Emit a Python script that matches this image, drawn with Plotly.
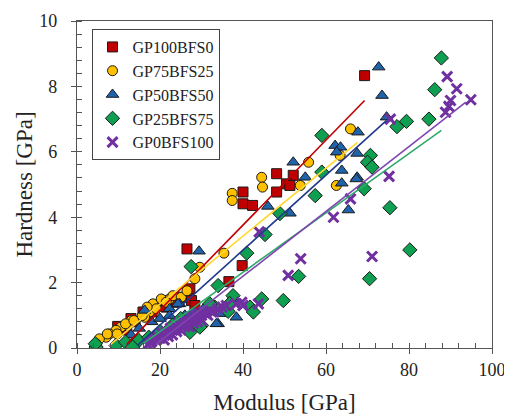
import plotly.graph_objects as go

# ---------------- data ----------------
names = ["GP100BFS0", "GP75BFS25", "GP50BFS50", "GP25BFS75", "GP0BFS100"]

gp100_x = [69.3, 48.1, 52.1, 50.5, 51.3, 48.1, 40.0, 40.0, 42.3, 26.5, 39.8, 36.6,
           25.5, 26.7, 27.6, 27.2, 28.4, 22.7, 20.7, 18.7, 15.9, 18.1, 9.8, 12.0,
           14.0, 17.0, 24.0, 21.5, 13.0]
gp100_y = [8.33, 5.33, 5.28, 5.02, 4.97, 4.77, 4.77, 4.41, 4.36, 3.03, 2.52, 2.03,
           1.55, 1.76, 1.45, 1.81, 1.30, 1.45, 1.45, 1.30, 1.10, 1.10, 0.66, 0.55,
           0.80, 1.00, 1.40, 1.25, 0.90]

gp75_x = [65.9, 63.4, 62.5, 55.8, 53.8, 44.5, 44.7, 37.4, 37.4, 35.4, 29.6, 28.4,
          24.7, 22.3, 18.3, 17.5, 16.3, 13.1, 12.2, 10.6, 9.4, 7.8, 7.0, 5.4, 4.6,
          18.3, 20.3, 23.1, 25.1, 19.1, 7.3, 9.7, 11.7, 13.7, 15.7, 16.9, 21.5, 26.5]
gp75_y = [6.70, 5.89, 4.97, 5.68, 4.97, 5.22, 4.92, 4.73, 4.51, 2.90, 2.47, 2.12,
          1.55, 1.50, 1.25, 1.10, 0.94, 0.84, 0.69, 0.64, 0.54, 0.43, 0.33, 0.28, 0.13,
          1.35, 1.50, 1.60, 1.55, 1.20, 0.43, 0.43, 0.74, 0.84, 0.99, 1.25, 1.40, 1.75]

gp50_x = [72.7, 73.5, 74.6, 67.7, 62.2, 63.5, 62.6, 67.5, 52.1, 63.8, 67.5, 63.8,
          67.3, 55.0, 51.3, 65.4, 46.0, 29.4, 34.0, 34.8, 24.7, 22.3, 22.3, 24.3,
          33.6, 36.4, 37.5, 16.3, 38.4, 13.0, 15.0, 18.0, 20.0, 26.0, 28.0, 30.5]
gp50_y = [8.59, 7.72, 7.06, 6.60, 6.19, 6.14, 5.99, 5.95, 5.68, 5.43, 5.22, 5.04,
          5.17, 5.22, 4.12, 4.22, 4.33, 2.96, 0.74, 1.05, 1.35, 1.20, 0.99, 1.35,
          0.74, 1.35, 1.50, 1.15, 0.94, 0.40, 0.60, 0.80, 0.90, 1.00, 1.10, 1.20]

gp25_x = [87.8, 86.2, 84.8, 79.4, 77.1, 59.0, 70.7, 70.0, 71.1, 59.0, 57.4, 69.2,
          48.9, 75.4, 53.4, 49.7, 70.5, 80.2, 45.3, 40.9, 27.5, 34.0, 44.5, 37.6,
          41.7, 36.4, 33.2, 30.0, 42.5, 36.8, 32.0, 29.6, 27.2, 22.3, 18.3, 28.8,
          4.6, 9.4, 13.1, 11.7, 14.9, 4.4, 17.3, 13.4, 20.0, 23.0, 25.0]
gp25_y = [8.87, 7.90, 7.00, 6.93, 6.77, 6.50, 5.89, 5.68, 5.53, 5.38, 4.66, 4.87,
          4.11, 4.29, 2.19, 1.45, 2.12, 3.00, 3.47, 2.90, 2.49, 1.91, 1.50, 1.60,
          1.25, 1.12, 1.25, 0.69, 1.10, 1.36, 1.35, 0.64, 0.48, 0.59, 0.28, 0.94,
          0.03, 0.08, 0.08, 0.18, 0.23, 0.13, 0.33, 0.03, 0.50, 0.70, 0.90]

gp0_x = [75.5, 89.2, 91.5, 90.0, 89.6, 94.9, 88.8, 75.2, 65.9, 61.8, 53.9, 50.9,
         71.1, 43.9, 39.7, 43.7,
         17.0, 17.6, 18.0, 18.5, 19.0, 19.5, 20.0, 20.5, 21.0, 21.5, 22.0, 22.5,
         23.0, 23.5, 24.0, 24.5, 25.0, 25.5, 26.0, 26.5, 27.0, 27.5, 28.0, 28.5,
         29.0, 29.5, 30.0, 30.5, 31.0, 31.5, 32.0, 32.5, 33.0, 34.0, 35.0, 36.0,
         21.0, 22.0, 23.0, 24.0, 25.0, 26.0, 27.0, 28.0, 29.0, 30.0, 38.4, 40.0]
gp0_y = [7.00, 8.30, 7.93, 7.57, 7.39, 7.59, 7.21, 5.25, 4.56, 4.00, 2.73, 2.22,
         2.80, 3.55, 1.40, 1.35,
         0.10, 0.15, 0.20, 0.28, 0.25, 0.35, 0.30, 0.45, 0.40, 0.50, 0.45, 0.60,
         0.55, 0.65, 0.60, 0.75, 0.70, 0.80, 0.75, 0.85, 0.80, 0.95, 0.90, 1.00,
         0.95, 1.05, 1.00, 1.10, 1.05, 1.00, 1.15, 1.10, 1.10, 1.20, 1.25, 1.30,
         0.25, 0.35, 0.40, 0.50, 0.55, 0.65, 0.65, 0.75, 0.80, 0.85, 1.35, 1.30]

# linear trend lines: slope, intercept, x start, x end
fit_slope = [0.130, 0.1038, 0.1146, 0.0907, 0.0991]
fit_intercept = [-1.44, -0.73, -1.59, -1.31, -1.77]
fit_xstart = [12.0, 7.8, 14.5, 16.0, 19.0]
fit_xend = [69.3, 67.6, 74.6, 87.8, 93.7]

xs = [gp100_x, gp75_x, gp50_x, gp25_x, gp0_x]
ys = [gp100_y, gp75_y, gp50_y, gp25_y, gp0_y]

# ---------------- styling ----------------
fill_colors = ["#C00000", "#FFC000", "#1F63AA", "#0E9F50", "#7030A0"]
line_colors = ["#C00000", "#FFD830", "#1F3A8A", "#2EAA6A", "#7F45B0"]
symbols = ["square", "circle", "triangle-up", "diamond", "x-thin-open"]
sizes = [10, 10, 11, 11, 10]
FONT = "Liberation Serif"

fig = go.Figure()
for i in range(5):
    if symbols[i] == "x-thin-open":
        marker = dict(symbol=symbols[i], size=sizes[i], color=fill_colors[i],
                      line=dict(color=fill_colors[i], width=3))
    else:
        marker = dict(symbol=symbols[i], size=sizes[i], color=fill_colors[i],
                      line=dict(color="#1a1a1a", width=1))
    fig.add_trace(go.Scatter(x=xs[i], y=ys[i], mode="markers", name=names[i],
                             marker=marker))

for i in range(5):
    lx = [fit_xstart[i], fit_xend[i]]
    ly = [fit_slope[i] * v + fit_intercept[i] for v in lx]
    fig.add_trace(go.Scatter(x=lx, y=ly, mode="lines", showlegend=False,
                             line=dict(color=line_colors[i], width=1.6),
                             hoverinfo="skip"))

# invisible trace for the overlay axes (inside part of the crossing major ticks)
fig.add_trace(go.Scatter(x=[None], y=[None], xaxis="x2", yaxis="y2",
                         showlegend=False, hoverinfo="skip"))

axis_common = dict(showgrid=False, zeroline=False, showline=True,
                   linecolor="#555555", linewidth=1.3, mirror=True,
                   tickcolor="#555555", tickwidth=1.3, automargin=False,
                   tickfont=dict(family=FONT, size=18, color="#222222"),
                   title_font=dict(family=FONT, size=23, color="#222222"))

fig.update_layout(
    width=512, height=415,
    margin=dict(l=69, r=28, t=13, b=75),
    paper_bgcolor="white", plot_bgcolor="white",
    font=dict(family=FONT, color="#222222"),
    xaxis=dict(range=[0, 100], dtick=20, ticks="outside", ticklen=5,
               minor=dict(dtick=4, ticks="inside", ticklen=5,
                          tickcolor="#555555", tickwidth=1.1),
               title=dict(text="Modulus [GPa]", standoff=15), **axis_common),
    yaxis=dict(range=[0, 10], dtick=2, ticks="outside", ticklen=5,
               ticklabelstandoff=10,
               minor=dict(dtick=0.4, ticks="inside", ticklen=5,
                          tickcolor="#555555", tickwidth=1.1),
               title=dict(text="Hardness [GPa]", standoff=0), **axis_common),
    xaxis2=dict(range=[0, 100], dtick=20, overlaying="x", anchor="y2",
                ticks="inside", ticklen=4, tickcolor="#555555", tickwidth=1.3,
                showticklabels=False, showgrid=False, zeroline=False,
                showline=False),
    yaxis2=dict(range=[0, 10], dtick=2, overlaying="y", anchor="x2",
                ticks="inside", ticklen=4, tickcolor="#555555", tickwidth=1.3,
                showticklabels=False, showgrid=False, zeroline=False,
                showline=False),
    legend=dict(x=0.035, y=0.9755, xanchor="left", yanchor="top",
                bgcolor="white", bordercolor="#444444", borderwidth=1,
                font=dict(family=FONT, size=16, color="#222222"),
                tracegroupgap=0, itemwidth=30),
    showlegend=True,
)

fig.write_html("out.html")
